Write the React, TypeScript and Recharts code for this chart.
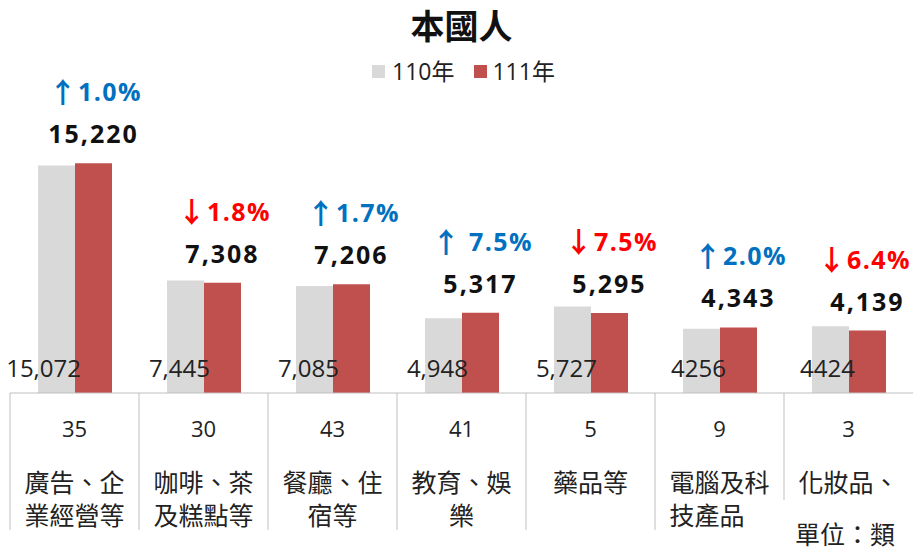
import React from "react";
import { Bar, BarChart, LabelList, XAxis, YAxis } from "recharts";

const codes = ["35", "30", "43", "41", "5", "9", "3"];
const names = [
  ["廣告、企", "業經營等"],
  ["咖啡、茶", "及糕點等"],
  ["餐廳、住", "宿等"],
  ["教育、娛", "樂"],
  ["藥品等"],
  ["電腦及科", "技產品　"],
  ["化妝品、"],
];
const year110 = [15072, 7445, 7085, 4948, 5727, 4256, 4424];
const year111 = [15220, 7308, 7206, 5317, 5295, 4343, 4139];
// labels as printed in the source (last two have no thousands separator)
const year110Labels = ["15,072", "7,445", "7,085", "4,948", "5,727", "4256", "4424"];
const year111Labels = ["15,220", "7,308", "7,206", "5,317", "5,295", "4,343", "4,139"];
const changeArrows = ["↑", "↓", "↑", "↑", "↓", "↑", "↓"];
const changeLabels = ["1.0%", "1.8%", "1.7%", " 7.5%", "7.5%", "2.0%", "6.4%"];

const data = codes.map((code, i) => ({
  code,
  y110: year110[i],
  y111: year111[i],
}));

const GRAY = "#D9D9D9";
const RED = "#C0504D";
const UP = "#0070C0";
const DOWN = "#FF0000";
const LINE = "#BFBFBF";
const NUM_FONT = "'Open Sans', 'Noto Sans CJK TC', sans-serif";
const CJK_FONT = "'Noto Sans CJK TC', sans-serif";

const CategoryTick = (props: any) => {
  const { x, y, payload } = props;
  const i: number = payload.index;
  const half: number = payload.offset ?? 64.5;
  const left = x - half;
  const isLast = i === codes.length - 1;
  return (
    <g>
      <line x1={left} x2={left} y1={y} y2={y + (isLast ? 107 : 137)} stroke={LINE} strokeWidth={1} />
      <text x={x} y={y + 35} textAnchor="middle" dominantBaseline="central" fontSize={22} fontFamily={NUM_FONT} fill="#222">
        {codes[i]}
      </text>
      {names[i].map((line, k) => (
        <text
          key={k}
          x={x}
          y={y + 88 + 33 * k}
          textAnchor="middle"
          dominantBaseline="central"
          fontSize={25}
          fontFamily={CJK_FONT}
          fill="#222"
        >
          {line}
        </text>
      ))}
    </g>
  );
};

const GrayLabel = (props: any) => {
  const { x, y, width, height, index } = props;
  return (
    <text
      x={x + width + 6}
      y={y + height - 26}
      textAnchor="end"
      dominantBaseline="central"
      fontSize={24}
      fontFamily={NUM_FONT}
      fill="#222"
    >
      {year110Labels[index]}
    </text>
  );
};

const RedLabel = (props: any) => {
  const { x, y, width, index } = props;
  const cx = x + width / 2;
  const up = changeArrows[index] === "↑";
  const isLast = index === codes.length - 1;
  return (
    <g>
      <text
        x={isLast ? cx - 3 : cx + 2}
        y={y - 72}
        textAnchor="middle"
        dominantBaseline="central"
        fontSize={25}
        fontWeight="bold"
        letterSpacing={1.5}
        fontFamily={NUM_FONT}
        fill={up ? UP : DOWN}
        style={{ whiteSpace: "pre" }}
      >
        <tspan fontFamily={CJK_FONT} fontSize={28} letterSpacing={1}>
          {changeArrows[index]}
        </tspan>
        <tspan>{changeLabels[index]}</tspan>
      </text>
      <text
        x={cx}
        y={y - 30}
        textAnchor="middle"
        dominantBaseline="central"
        fontSize={25}
        fontWeight="bold"
        letterSpacing={2}
        fontFamily={NUM_FONT}
        fill="#111"
      >
        {year111Labels[index]}
      </text>
    </g>
  );
};

export default function App() {
  return (
    <div style={{ position: "absolute", left: 0, top: 0, width: 913, height: 550, background: "#fff" }}>
      <div
        style={{
          position: "absolute",
          left: 5,
          top: 4,
          width: 913,
          textAlign: "center",
          fontFamily: CJK_FONT,
          fontWeight: "bold",
          fontSize: 34,
          lineHeight: "42px",
          color: "#111",
        }}
      >
        本國人
      </div>
      <div
        style={{
          position: "absolute",
          left: 372,
          top: 56,
          display: "flex",
          alignItems: "center",
          fontFamily: NUM_FONT,
          fontSize: 23,
          lineHeight: "30px",
          color: "#222",
        }}
      >
        <span style={{ width: 13, height: 13, background: GRAY, display: "inline-block", marginRight: 7 }} />
        <span>110年</span>
        <span style={{ width: 13, height: 13, background: RED, display: "inline-block", marginLeft: 20, marginRight: 5 }} />
        <span>111年</span>
      </div>
      <div
        style={{
          position: "absolute",
          left: 795,
          top: 518,
          fontFamily: CJK_FONT,
          fontSize: 25,
          lineHeight: "30px",
          color: "#222",
        }}
      >
        單位：類
      </div>
      <BarChart
        width={913}
        height={550}
        data={data}
        margin={{ top: 91, right: 0, bottom: 0, left: 10 }}
        barSize={37}
        barGap={0}
      >
        <XAxis
          dataKey="code"
          height={157}
          interval={0}
          tickLine={false}
          tickSize={0}
          tickMargin={0}
          axisLine={{ stroke: LINE }}
          tick={<CategoryTick />}
        />
        <YAxis hide domain={[0, 20000]} />
        <Bar dataKey="y110" fill={GRAY} isAnimationActive={false}>
          <LabelList dataKey="y110" content={<GrayLabel />} />
        </Bar>
        <Bar dataKey="y111" fill={RED} isAnimationActive={false}>
          <LabelList dataKey="y111" content={<RedLabel />} />
        </Bar>
      </BarChart>
    </div>
  );
}
